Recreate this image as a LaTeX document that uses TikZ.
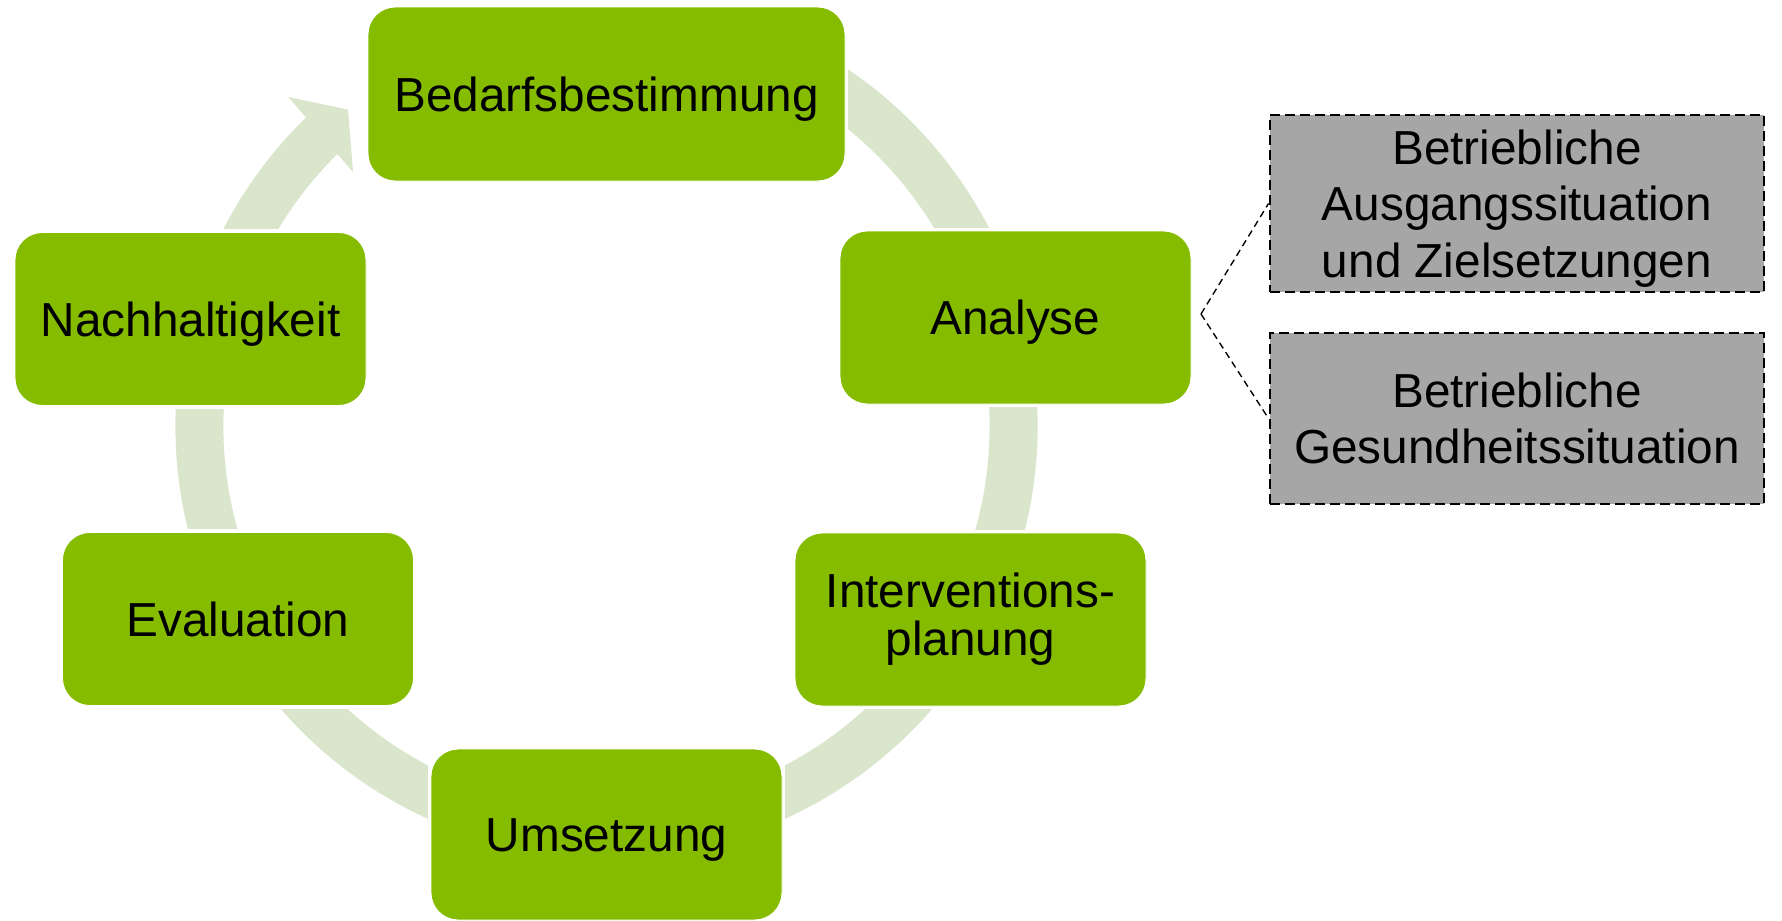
\documentclass[tikz,border=0pt]{standalone}
\usepackage{fontspec}
\setmainfont{Liberation Sans}
\usetikzlibrary{backgrounds,calc}
\definecolor{boxgreen}{RGB}{134,188,0}
\definecolor{ringgreen}{RGB}{217,230,203}
\definecolor{infogray}{RGB}{166,166,166}
\begin{document}
\begin{tikzpicture}[x=0.44pt,y=-0.44pt,
  stage/.style={fill=boxgreen, draw=white, line width=0.4pt, rounded corners=12pt, inner sep=0pt,
    font=\fontsize{21}{21}\selectfont, text=black, align=center,
    minimum width=351*0.44pt, minimum height=173*0.44pt},
  single/.style={text height=15pt, text depth=0pt},
  info/.style={fill=infogray, draw=black, line width=1.3pt, dash pattern=on 4.4pt off 2.2pt,
    inner sep=0pt, align=center, font=\fontsize{21}{24.8}\selectfont, text=black,
    minimum width=494*0.44pt},
  link/.style={draw=black, line width=0.6pt, dash pattern=on 3pt off 2pt},
  ring/.style={draw=ringgreen, line width=48*0.44pt}
]
\useasboundingbox (0,0) rectangle (1782,921);

% stages
\node[stage, single, minimum width=477*0.44pt, minimum height=174*0.44pt] (bed) at (606.5,94) {Bedarfsbestimmung};
\node[stage, single] (ana) at (1015.5,317.5) {Analyse};
\node[stage] (int) at (970.5,619.5) {Interventions-\\planung};
\node[stage, single, minimum height=171*0.44pt] (ums) at (606.5,834.5) {Umsetzung};
\node[stage, single] (eva) at (238,619) {Evaluation};
\node[stage, single] (nac) at (190.5,319) {Nachhaltigkeit};

% detail boxes
\node[info, minimum height=177*0.44pt, text depth=0pt] (g1) at (1517,203.5) {Betriebliche\\Ausgangssituation\\und Zielsetzungen};
\node[info, minimum height=171*0.44pt] (g2) at (1517,418.5) {Betriebliche\\Gesundheitssituation};

% dashed connectors
\coordinate (fork) at (1201,314);
\draw[link] (fork) -- (g1.west);
\draw[link] (fork) -- (g2.west);

% cycle ring behind the stages
\begin{pgfonlayer}{background}
  \coordinate (c) at (606.5,426.5);
  \draw[ring] ($(c)+(-70:407)$) arc[start angle=-70, end angle=226.5, radius=407];
  \fill[ringgreen] ($(c)+(-134:458)$) -- ($(c)+(-129.2:409)$) -- ($(c)+(-134.9:359)$) -- cycle;
  \foreach \n in {bed,ana,int,ums,eva,nac}
    \fill[white] ([shift={(-3,-3)}]\n.north west) rectangle ([shift={(3,3)}]\n.south east);
\end{pgfonlayer}
\end{tikzpicture}
\end{document}
